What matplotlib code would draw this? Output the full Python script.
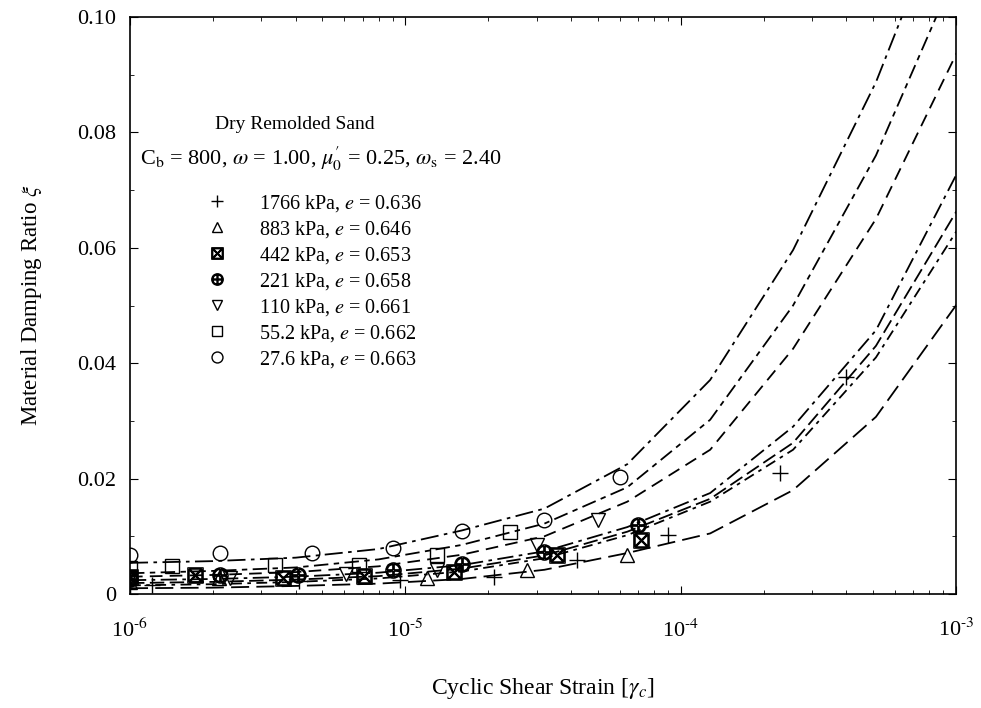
import numpy as np
import matplotlib
matplotlib.use('Agg')
import matplotlib.pyplot as plt
from matplotlib.lines import Line2D
from matplotlib.ticker import LogLocator, MultipleLocator, FuncFormatter, NullFormatter

plt.rcParams['font.family'] = ['Liberation Serif', 'DejaVu Serif']
plt.rcParams['mathtext.fontset'] = 'stix'
plt.rcParams['axes.unicode_minus'] = False

# model curves: strain points (doubling) and damping ratio of each curve
strain = [1e-6, 2e-6, 4e-6, 8e-6, 1.6e-5, 3.2e-5, 6.4e-5, 1.28e-4, 2.56e-4, 5.12e-4, 1.024e-3]
curve_a = [0.0054, 0.0057, 0.0063, 0.0078, 0.0110, 0.0148, 0.0225, 0.0371, 0.0596, 0.0887, 0.1250]
curve_b = [0.0036, 0.0040, 0.0046, 0.0060, 0.0085, 0.0122, 0.0185, 0.0302, 0.0500, 0.0760, 0.1090]
curve_c = [0.0030, 0.0033, 0.0038, 0.0048, 0.0068, 0.0100, 0.0160, 0.0250, 0.0425, 0.0650, 0.0945]
curve_d = [0.0024, 0.0026, 0.0030, 0.0037, 0.0050, 0.0074, 0.0116, 0.0175, 0.0290, 0.0457, 0.0735]
curve_e = [0.0019, 0.0021, 0.0025, 0.0031, 0.0044, 0.0067, 0.0108, 0.0165, 0.0262, 0.0430, 0.0670]
curve_f = [0.0015, 0.0017, 0.0021, 0.0027, 0.0039, 0.0062, 0.0102, 0.0160, 0.0250, 0.0410, 0.0635]
curve_g = [0.0010, 0.0011, 0.0014, 0.0018, 0.0026, 0.0042, 0.0071, 0.0105, 0.0180, 0.0307, 0.0507]
curves = [curve_a, curve_b, curve_c, curve_d, curve_e, curve_f, curve_g]
dash_styles = [(10, 3, 2, 3), (8, 3, 3, 3), (7, 4), (9, 3, 2, 3), (8, 3), (6, 3, 2, 3), (10, 4)]

# measured points
x_1766 = [1.0e-6, 1.2e-6, 4.1e-6, 9.6e-6, 2.1e-5, 4.2e-5, 9.0e-5, 2.3e-4, 4.0e-4]
y_1766 = [0.0015, 0.0016, 0.0022, 0.0024, 0.0030, 0.0059, 0.0102, 0.0210, 0.0376]
x_883 = [1.0e-6, 2.1e-6, 1.2e-5, 2.77e-5, 6.4e-5]
y_883 = [0.0020, 0.0027, 0.0028, 0.0042, 0.0068]
x_442 = [1.0e-6, 1.72e-6, 3.6e-6, 7.1e-6, 1.5e-5, 3.55e-5, 7.2e-5]
y_442 = [0.0030, 0.0033, 0.0027, 0.0031, 0.0038, 0.0068, 0.0094]
x_221 = [1.0e-6, 2.12e-6, 4.07e-6, 9.0e-6, 1.6e-5, 3.2e-5, 7.0e-5]
y_221 = [0.0026, 0.0033, 0.0033, 0.0042, 0.0052, 0.0073, 0.0120]
x_110 = [1.0e-6, 2.3e-6, 6.1e-6, 1.3e-5, 3.0e-5, 5.0e-5]
y_110 = [0.0028, 0.0028, 0.0034, 0.0042, 0.0085, 0.0128]
x_552 = [1.0e-6, 1.42e-6, 3.36e-6, 6.8e-6, 1.3e-5, 2.4e-5]
y_552 = [0.0045, 0.0048, 0.0050, 0.0050, 0.0068, 0.0108]
x_276 = [1.0e-6, 2.12e-6, 4.6e-6, 9.0e-6, 1.6e-5, 3.2e-5, 6.0e-5]
y_276 = [0.0068, 0.0071, 0.0071, 0.0080, 0.0110, 0.0128, 0.0203]

labels = ['1766 kPa, $e$ = 0.636', '883 kPa, $e$ = 0.646', '442 kPa, $e$ = 0.653',
          '221 kPa, $e$ = 0.658', '110 kPa, $e$ = 0.661', '55.2 kPa, $e$ = 0.662',
          '27.6 kPa, $e$ = 0.663']
markers = ['+', '^', r'$\boxtimes$', r'$\oplus$', 'v', 's', 'o']
sizes = [12, 9.5, 11, 11, 9.5, 9.5, 10.5]
xs = [x_1766, x_883, x_442, x_221, x_110, x_552, x_276]
ys = [y_1766, y_883, y_442, y_221, y_110, y_552, y_276]

fig = plt.figure(figsize=(9.81, 7.08), dpi=100)
ax = fig.add_axes([0.1325, 0.161, 0.842, 0.815])

for c, d in zip(curves, dash_styles):
    ax.plot(strain, c, color='black', lw=1.3, dashes=d)

handles = []
for x, y, m, s, lab in zip(xs, ys, markers, sizes, labels):
    ax.plot(x, y, ls='none', marker=m, ms=s, mfc='none', mec='black', mew=1.0, color='black')
    handles.append(Line2D([], [], ls='none', marker=m, ms=s * 0.75, mfc='none', mec='black',
                          mew=1.0, color='black', label=lab))

ax.set_xscale('log')
ax.set_xlim(1e-6, 1e-3)
ax.set_ylim(0, 0.1)

ax.xaxis.set_major_locator(LogLocator(base=10, numticks=10))
ax.xaxis.set_minor_locator(LogLocator(base=10, subs=np.arange(2, 10), numticks=20))
ax.xaxis.set_minor_formatter(NullFormatter())
ax.xaxis.set_major_formatter(FuncFormatter(
    lambda v, p: r'10$^{\text{-%d}}$' % int(round(-np.log10(v)))))
ax.yaxis.set_major_locator(MultipleLocator(0.02))
ax.yaxis.set_minor_locator(MultipleLocator(0.01))
ax.yaxis.set_major_formatter(FuncFormatter(lambda v, p: '0' if v == 0 else '%.2f' % v))
ax.tick_params(which='both', direction='in', top=True, right=True)
ax.tick_params(which='major', length=6, labelsize=16, pad=10)
ax.tick_params(axis='x', which='major', pad=18)
ax.tick_params(which='minor', length=3)
for sp in ax.spines.values():
    sp.set_linewidth(1.2)

ax.set_xlabel(r'Cyclic Shear Strain [$\gamma_c$]', fontsize=17, labelpad=24)
ax.set_ylabel(r'Material Damping Ratio $\xi$', fontsize=16.5, labelpad=24)

ax.text(0.2, 0.806, 'Dry Remolded Sand', transform=ax.transAxes, fontsize=14, ha='center')
ax.text(0.012, 0.744,
        r'C$_\mathrm{b}$ = 800, $\omega$ = 1.00, $\mu^{\prime}_{0}$ = 0.25, $\omega_\mathrm{s}$ = 2.40',
        transform=ax.transAxes, fontsize=16)

ax.legend(handles=handles, loc='upper left', bbox_to_anchor=(0.093, 0.695), frameon=False,
          fontsize=14.5, handlelength=1.0, handletextpad=1.6, labelspacing=0.25,
          borderpad=0, borderaxespad=0)

fig.savefig('out.png', dpi=100)
